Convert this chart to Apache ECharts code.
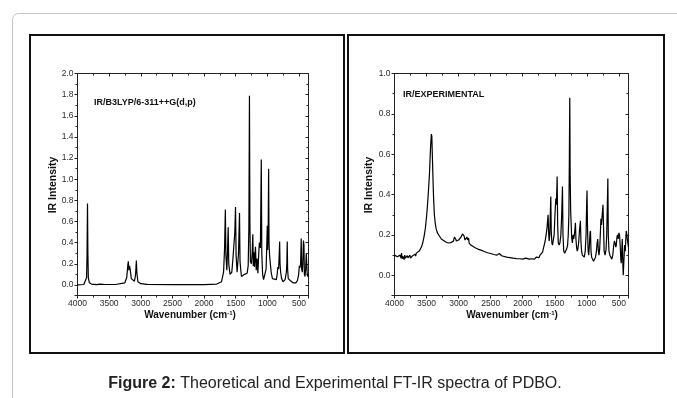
<!DOCTYPE html>
<html><head><meta charset="utf-8">
<script src="https://cdn.jsdelivr.net/npm/echarts@6/dist/echarts.min.js"></script>
<style>html,body{margin:0;padding:0;background:#fff}#c{width:677px;height:398px}</style>
</head><body><div id="c"></div>
<script>
// ---------- DATA ----------
const xTickLabels = [4000, 3500, 3000, 2500, 2000, 1500, 1000, 500];
const leftYTickLabels = [0.0, 0.2, 0.4, 0.6, 0.8, 1.0, 1.2, 1.4, 1.6, 1.8, 2.0];
const rightYTickLabels = [0.0, 0.2, 0.4, 0.6, 0.8, 1.0];

// Theoretical IR (B3LYP/6-311++G(d,p))
const theoWavenumber = [4000,3900,3870,3856,3849,3842,3836,3829,3812,3780,3700,3642,3630,3620,3560,3400,3252,3222,3206,3197,3188,3178,3168,3150,3100,3082,3070,3061,3046,3000,2900,2500,2000,1800,1725,1692,1676,1664,1655,1640,1628,1619,1610,1590,1562,1545,1530,1514,1503,1494,1478,1456,1440,1432,1410,1380,1360,1340,1320,1303,1292,1283,1276,1268,1252,1240,1230,1222,1212,1204,1188,1176,1162,1150,1136,1126,1110,1096,1088,1075,1060,1040,1020,1008,1001,995,986,980,974,965,953,940,920,890,858,845,835,822,812,806,800,790,775,753,720,700,692,686,680,670,655,647,635,610,595,570,550,525,505,495,485,475,465,458,448,440,430,422,415,405,395,385,378,370,360,350];
const theoIntensity  = [0.0,0.004,0.014,0.07,0.3,0.77,0.3,0.07,0.02,0.008,0.003,0.008,0.025,0.008,0.004,0.004,0.02,0.07,0.18,0.224,0.14,0.18,0.15,0.06,0.035,0.1,0.23,0.11,0.03,0.012,0.005,0.002,0.003,0.008,0.03,0.12,0.35,0.713,0.28,0.14,0.35,0.546,0.2,0.1,0.12,0.24,0.25,0.5,0.738,0.28,0.12,0.3,0.681,0.22,0.08,0.07,0.1,0.09,0.11,0.18,0.55,1.79,0.6,0.22,0.2,0.3,0.48,0.18,0.31,0.17,0.36,0.14,0.25,0.11,0.3,0.4,0.35,1.186,0.3,0.1,0.05,0.06,0.15,0.4,0.56,0.33,0.6,1.10,0.4,0.28,0.27,0.12,0.06,0.05,0.05,0.1,0.17,0.15,0.3,0.41,0.2,0.12,0.06,0.03,0.05,0.12,0.2,0.41,0.15,0.06,0.05,0.07,0.04,0.03,0.02,0.03,0.02,0.04,0.1,0.18,0.16,0.2,0.44,0.15,0.12,0.2,0.42,0.38,0.1,0.08,0.15,0.3,0.3,0.1,0.08,0.1];

// Experimental FT-IR
const expWavenumber = [4000,3985,3970,3955,3940,3925,3912,3900,3890,3880,3870,3860,3850,3840,3830,3820,3810,3800,3790,3780,3770,3760,3750,3740,3730,3720,3710,3700,3690,3680,3670,3660,3645,3630,3615,3600,3580,3560,3540,3520,3500,3485,3470,3455,3445,3435,3425,3418,3410,3400,3390,3378,3365,3350,3330,3300,3270,3240,3200,3160,3120,3080,3065,3055,3045,3035,3020,3000,2980,2960,2940,2925,2915,2900,2880,2870,2860,2845,2835,2810,2780,2750,2700,2650,2600,2550,2500,2450,2400,2380,2365,2350,2330,2300,2250,2200,2150,2100,2050,2000,1970,1950,1930,1900,1870,1850,1830,1815,1800,1790,1775,1760,1745,1730,1715,1700,1690,1680,1665,1650,1635,1620,1610,1604,1597,1588,1578,1570,1562,1555,1545,1535,1525,1510,1497,1484,1474,1463,1455,1445,1432,1420,1405,1392,1380,1372,1360,1345,1330,1315,1300,1290,1280,1272,1266,1260,1252,1244,1235,1225,1215,1205,1195,1185,1178,1170,1160,1150,1140,1128,1115,1100,1092,1082,1070,1055,1040,1025,1012,1003,997,990,980,970,960,950,943,935,925,910,895,880,865,850,840,830,820,810,800,790,780,772,760,748,740,730,715,700,690,680,672,665,655,640,625,610,595,580,570,560,548,540,530,520,510,500,490,480,470,463,455,447,440,432,425,418,411,400,392,385,375,365,355,350];
const expIntensity  = [0.10,0.095,0.098,0.092,0.096,0.088,0.1,0.085,0.11,0.082,0.095,0.09,0.078,0.1,0.085,0.092,0.08,0.098,0.086,0.09,0.078,0.1,0.085,0.092,0.08,0.096,0.088,0.1,0.09,0.105,0.095,0.11,0.105,0.115,0.12,0.125,0.14,0.16,0.19,0.23,0.29,0.35,0.42,0.5,0.58,0.65,0.7,0.69,0.6,0.48,0.38,0.3,0.26,0.23,0.21,0.195,0.18,0.172,0.165,0.16,0.162,0.17,0.19,0.185,0.18,0.17,0.17,0.175,0.18,0.19,0.205,0.21,0.195,0.175,0.18,0.19,0.175,0.185,0.16,0.15,0.145,0.138,0.13,0.125,0.118,0.112,0.108,0.103,0.1,0.1,0.108,0.104,0.097,0.095,0.09,0.088,0.085,0.083,0.082,0.08,0.082,0.085,0.083,0.08,0.078,0.082,0.075,0.08,0.078,0.09,0.082,0.095,0.088,0.1,0.105,0.1,0.115,0.13,0.15,0.17,0.2,0.24,0.28,0.3,0.22,0.17,0.2,0.3,0.39,0.22,0.16,0.15,0.17,0.2,0.3,0.38,0.35,0.49,0.25,0.16,0.15,0.16,0.2,0.3,0.44,0.2,0.12,0.11,0.12,0.13,0.15,0.2,0.3,0.6,0.88,0.5,0.32,0.25,0.18,0.16,0.2,0.18,0.2,0.23,0.26,0.18,0.14,0.12,0.13,0.16,0.22,0.27,0.17,0.12,0.1,0.1,0.09,0.12,0.2,0.35,0.42,0.25,0.12,0.1,0.15,0.21,0.22,0.12,0.09,0.08,0.07,0.075,0.09,0.12,0.16,0.18,0.12,0.1,0.13,0.2,0.28,0.25,0.3,0.35,0.25,0.12,0.1,0.13,0.2,0.35,0.48,0.2,0.12,0.1,0.09,0.08,0.1,0.15,0.17,0.16,0.14,0.15,0.19,0.2,0.18,0.21,0.2,0.15,0.08,0.06,0.12,0.18,0.08,0.0,0.05,0.1,0.15,0.12,0.18,0.22,0.2,0.17,0.15,0.14];

// ---------- CHART ----------
const FONT = "'Liberation Sans Narrow','Arial Narrow','Liberation Sans',Arial,sans-serif";
const AX = '#222';
const zip = (a, b) => a.map((v, i) => [v, b[i]]);
const near = (v, arr) => arr.some(t => Math.abs(t - v) < 1e-6);

function xAxes(grid) {
  const base = {
    gridIndex: grid, type: 'value', inverse: true, min: 350, max: 4000,
    splitNumber: 7, minInterval: 500, maxInterval: 500,
    splitLine: { show: false },
    axisLine: { show: true, onZero: false, lineStyle: { color: AX, width: 1 } },
    minorTick: { show: true, splitNumber: 2, length: 2, lineStyle: { color: AX } }
  };
  return [
    Object.assign({}, base, {
      position: 'bottom',
      axisTick: { show: true, length: 3, lineStyle: { color: AX } },
      axisLabel: { show: true, fontSize: 8.5, color: '#2a2a2a', margin: 4, fontFamily: FONT,
        formatter: v => near(v, xTickLabels) ? String(v) : '' }
    }),
    Object.assign({}, base, {
      position: 'top',
      axisTick: { show: true, inside: true, length: 3, lineStyle: { color: AX } },
      axisLabel: { show: false }
    })
  ];
}
function yAxes(grid, ymax, labels) {
  const base = {
    gridIndex: grid, type: 'value', min: -0.1, max: ymax,
    minInterval: 0.2, maxInterval: 0.2, splitNumber: Math.round(ymax / 0.2),
    splitLine: { show: false },
    axisLine: { show: true, onZero: false, lineStyle: { color: AX, width: 1 } },
    minorTick: { show: true, splitNumber: 2, length: 2, lineStyle: { color: AX } }
  };
  return [
    Object.assign({}, base, {
      position: 'left',
      axisTick: { show: true, length: 3, lineStyle: { color: AX } },
      axisLabel: { show: true, fontSize: 8.5, color: '#2a2a2a', margin: 4, fontFamily: FONT,
        formatter: v => near(v, labels) ? v.toFixed(1) : '' }
    }),
    Object.assign({}, base, {
      position: 'right',
      axisTick: { show: true, inside: true, length: 3, lineStyle: { color: AX } },
      axisLabel: { show: false }
    })
  ];
}

const titleFont = { fontFamily: FONT, fontWeight: 'bold', fontSize: 10, fill: '#111' };
function txt(x, y, text, extra, rot) {
  return Object.assign({
    type: 'text', x: x, y: y, rotation: rot || 0, silent: true,
    style: Object.assign({ text: text, align: 'center', verticalAlign: 'middle' }, titleFont, extra || {})
  });
}

const chart = echarts.init(document.getElementById('c'), null, { renderer: 'canvas' });
chart.setOption({
  animation: false,
  grid: [
    { left: 77.5, top: 73.5, width: 231, height: 222 },
    { left: 394.5, top: 73.5, width: 234, height: 222 }
  ],
  xAxis: xAxes(0).concat(xAxes(1)),
  yAxis: yAxes(0, 2.0, leftYTickLabels).concat(yAxes(1, 1.0, rightYTickLabels)),
  series: [
    { type: 'line', xAxisIndex: 0, yAxisIndex: 0, data: zip(theoWavenumber, theoIntensity),
      showSymbol: false, silent: true, lineStyle: { color: '#000', width: 1.2 } },
    { type: 'line', xAxisIndex: 2, yAxisIndex: 2, data: zip(expWavenumber, expIntensity),
      showSymbol: false, silent: true, lineStyle: { color: '#000', width: 1.2 } }
  ],
  graphic: [
    { type: 'rect', silent: true, shape: { x: 12.5, y: 13.5, width: 720, height: 420, r: 6 },
      style: { fill: 'none', stroke: '#c4c4c4', lineWidth: 1 } },
    { type: 'rect', silent: true, shape: { x: 30, y: 35, width: 314, height: 318 },
      style: { fill: 'none', stroke: '#111', lineWidth: 2 } },
    { type: 'rect', silent: true, shape: { x: 348, y: 35, width: 316, height: 318 },
      style: { fill: 'none', stroke: '#111', lineWidth: 2 } },
    txt(94, 103, 'IR/B3LYP/6-311++G(d,p)', { align: 'left', fontSize: 9 }),
    txt(403, 94.5, 'IR/EXPERIMENTAL', { align: 'left', fontSize: 9 }),
    txt(53, 185, 'IR Intensity', { fontSize: 10.5 }, Math.PI / 2),
    txt(369.5, 185, 'IR Intensity', { fontSize: 10.5 }, Math.PI / 2),
    txt(190, 315, '{n|Wavenumber (cm}{s|-1}{n|)}', { rich: {
      n: { fontFamily: FONT, fontWeight: 'bold', fontSize: 10, fill: '#111' },
      s: { fontFamily: FONT, fontWeight: 'bold', fontSize: 6, fill: '#111', verticalAlign: 'top', padding: [0, 0, 4, 0] } } }),
    txt(512, 315, '{n|Wavenumber (cm}{s|-1}{n|)}', { rich: {
      n: { fontFamily: FONT, fontWeight: 'bold', fontSize: 10, fill: '#111' },
      s: { fontFamily: FONT, fontWeight: 'bold', fontSize: 6, fill: '#111', verticalAlign: 'top', padding: [0, 0, 4, 0] } } }),
    { type: 'text', x: 335, y: 384, silent: true,
      style: { text: '{b|Figure 2:} Theoretical and Experimental FT-IR spectra of PDBO.',
        align: 'center', verticalAlign: 'middle', fontFamily: "'Liberation Sans',Arial,sans-serif",
        fontSize: 16, fill: '#222',
        rich: { b: { fontFamily: "'Liberation Sans',Arial,sans-serif", fontWeight: 'bold', fontSize: 16, fill: '#222' } } } }
  ]
});
</script>
</body></html>
